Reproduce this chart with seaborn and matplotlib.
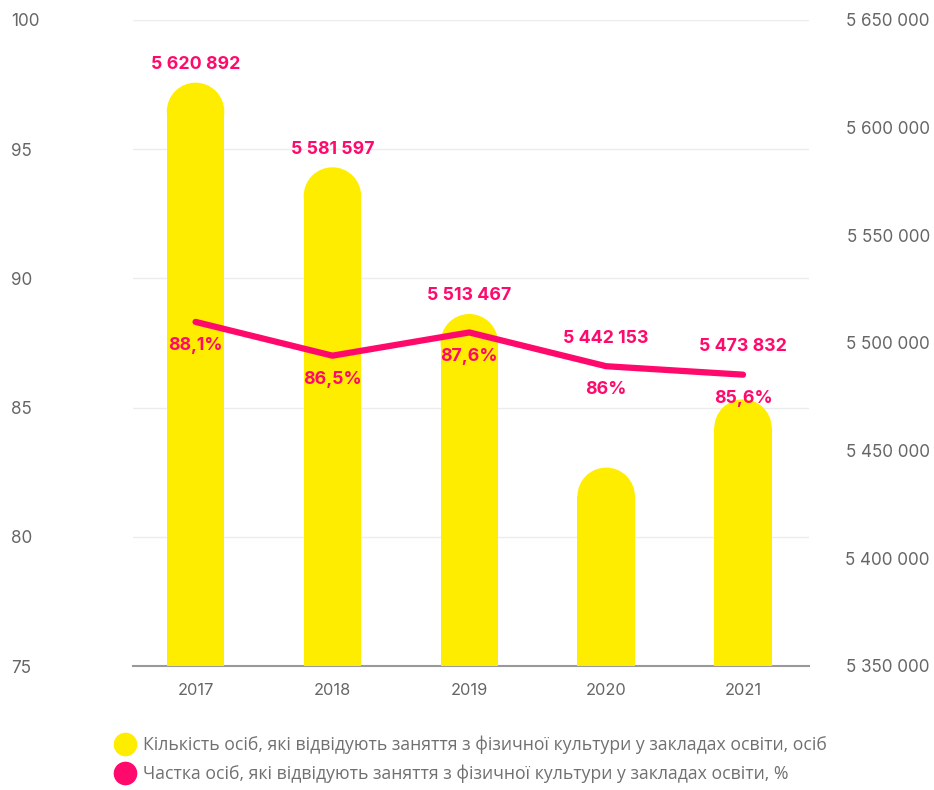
import numpy as np
import pandas as pd
import matplotlib.pyplot as plt
import seaborn as sns
from matplotlib.patches import Ellipse
from matplotlib.lines import Line2D

years = ['2017', '2018', '2019', '2020', '2021']
counts = [5620892, 5581597, 5513467, 5442153, 5473832]
share = [88.1, 86.5, 87.6, 86.0, 85.6]
count_labels = ['5 620 892', '5 581 597', '5 513 467', '5 442 153', '5 473 832']
share_labels = ['88,1%', '86,5%', '87,6%', '86%', '85,6%']
legend_labels = ['Кількість осіб, які відвідують заняття з фізичної культури у закладах освіти, осіб',
                 'Частка осіб, які відвідують заняття з фізичної культури у закладах освіти, %']

YELLOW = '#FFED00'
PINK = '#FF0A6C'
GREY = '#666666'

sns.set_theme(style='white')
plt.rcParams['font.family'] = ['Inter', 'DejaVu Sans']

df = pd.DataFrame({'year': years, 'count': counts, 'share': share})

W, H = 934, 790
fig = plt.figure(figsize=(W/100, H/100), dpi=100)
ax_box = [133/W, 124/H, 676/W, 646/H]
ax = fig.add_axes(ax_box)

# left percent axis with grid
ax.set_ylim(75, 100)
ax.set_yticks(np.arange(75, 101, 5))
ax.yaxis.grid(True, color='#ececec', lw=1)
ax.xaxis.grid(False)
for s in ['top', 'left', 'right']:
    ax.spines[s].set_visible(False)
ax.spines['bottom'].set_color('#999999')
ax.spines['bottom'].set_linewidth(1.5)
ax.tick_params(axis='y', length=0, pad=88, labelsize=12.3, labelcolor=GREY)
for t in ax.get_yticklabels():
    t.set_horizontalalignment('left')

# bars on right axis
ax2 = ax.twinx()
sns.barplot(data=df, x='year', y='count', ax=ax2, color=YELLOW, width=0.42,
            saturation=1, linewidth=0)
lo2, hi2 = 5350000, 5650000
ax2.set_ylim(lo2, hi2)
ax2.set_yticks(np.arange(lo2, hi2 + 1, 50000))
ax2.set_yticklabels([f'{v:,}'.replace(',', ' ') for v in np.arange(lo2, hi2 + 1, 50000)])
ax2.set_ylabel('')
for s in ax2.spines.values():
    s.set_visible(False)
ax2.tick_params(axis='y', length=0, pad=87, labelsize=12.3, labelcolor=GREY)
for t in ax2.get_yticklabels():
    t.set_horizontalalignment('right')

xlo, xhi = -0.457, 4.482
ax.set_xlim(xlo, xhi)
ax.set_xticks(range(len(years)))
ax.set_xticklabels(years)
ax.set_xlabel('')
ax.tick_params(axis='x', length=0, pad=12, labelsize=11.8, labelcolor=GREY)

# rounded bar tops
px_per_x = ax_box[2] * W / (xhi - xlo)
y_per_px = (hi2 - lo2) / (ax_box[3] * H)
for p, v in zip(ax2.patches, counts):
    w = p.get_width()
    r = w * px_per_x / 2 * y_per_px
    p.set_height(v - r - p.get_y())
    ax2.add_patch(Ellipse((p.get_x() + w/2, v - r), w, 2*r, color=YELLOW, lw=0))

# line on its own scale
ax3 = ax.twinx()
lo3, hi3 = 71.8, 102.4
sns.lineplot(x=range(len(years)), y=share, ax=ax3, color=PINK, lw=4.5,
             solid_capstyle='round')
ax3.set_ylim(lo3, hi3)
ax3.set_yticks([])
ax3.set_ylabel('')
for s in ax3.spines.values():
    s.set_visible(False)

for i, (v, s) in enumerate(zip(counts, share)):
    ax3.annotate(share_labels[i], (i, s), xytext=(0, -17), textcoords='offset points',
                 ha='center', va='center', color=PINK, fontsize=12.8, fontweight='bold')
    line_y2 = lo2 + (s - lo3) / (hi3 - lo3) * (hi2 - lo2)
    if line_y2 > v:
        ref, off = line_y2, 20
    else:
        ref, off = v, 13
    ax2.annotate(count_labels[i], (i, ref), xytext=(0, off), textcoords='offset points',
                 ha='center', va='center', color=PINK, fontsize=12.8, fontweight='bold')

handles = [Line2D([], [], marker='o', ls='', markersize=16, color=YELLOW),
           Line2D([], [], marker='o', ls='', markersize=16, color=PINK)]
leg = fig.legend(handles, legend_labels, loc='upper left', bbox_to_anchor=(108/W, 1 - 727/H),
                 frameon=False, borderpad=0, handlelength=0.9, handletextpad=0.6,
                 labelspacing=0.6, prop={'family': ['Open Sans', 'DejaVu Sans'], 'size': 12.7})
for t in leg.get_texts():
    t.set_color('#707070')

fig.savefig('out.png', dpi=100)
